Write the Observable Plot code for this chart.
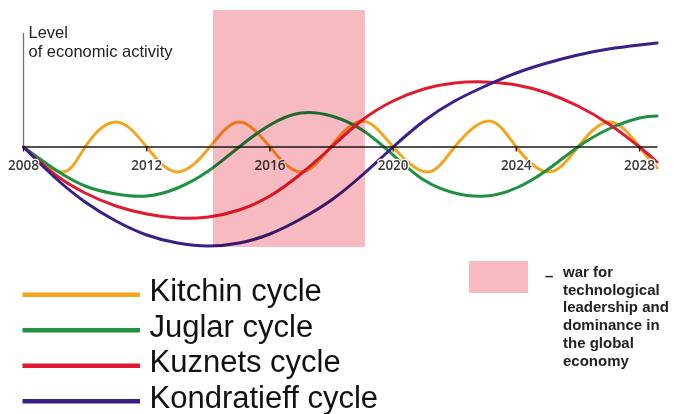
<!DOCTYPE html>
<html>
<head>
<meta charset="utf-8">
<script src="https://cdn.jsdelivr.net/npm/d3@7"></script>
<script src="https://cdn.jsdelivr.net/npm/@observablehq/plot@0.6"></script>
<style>
  html, body { margin: 0; padding: 0; background: #fff; }
  #wrap { width: 674px; height: 414px; overflow: hidden; background: #fff; }
  #wrap svg { display: block; }
</style>
</head>
<body>
<div id="wrap"></div>
<script>
// ---- data ----
const seriesNames = ["Kitchin cycle", "Juglar cycle", "Kuznets cycle", "Kondratieff cycle"];
const seriesColors = ["#f2a51f", "#1f9140", "#e01b2f", "#3b1f89"];

const kitchinYears  = [2008, 2009.25, 2010, 2011, 2012, 2013, 2014.05, 2015, 2016, 2017, 2017.97, 2019, 2020, 2021.1, 2022, 2023.1, 2024, 2025.05, 2026, 2027.05, 2028, 2028.57];
const kitchinLevels = [0, -25, 0, 25, 0, -25, 0, 25, 0, -25, 0, 26, 0, -25, 0, 26, 0, -25, 0, 25, 0, -21];

const juglarYears  = [2008, 2009, 2010, 2011, 2012, 2013, 2014, 2015, 2016, 2017, 2018, 2019, 2020, 2021, 2022, 2023, 2024, 2025, 2026, 2027, 2028, 2028.57];
const juglarLevels = [0, -22, -39, -47, -49, -41, -24, 0, 22, 34, 31, 17, -8, -33, -46, -49, -41, -23, 0, 18, 29, 31];

const kuznetsYears  = [2008, 2009, 2010, 2011, 2012, 2013, 2014, 2015, 2016, 2017, 2018, 2019, 2020, 2021, 2022, 2023, 2024, 2025, 2026, 2027, 2028, 2028.57];
const kuznetsLevels = [0, -27, -46, -59, -67, -71, -70, -63, -49, -27, 0, 27, 46, 58, 64, 65, 62, 54, 41, 23, 0, -15];

const kondratieffYears  = [2008, 2009, 2010, 2011, 2012, 2013, 2014, 2015, 2016, 2017, 2018, 2019, 2020, 2021, 2022, 2023, 2024, 2025, 2026, 2027, 2028, 2028.57];
const kondratieffLevels = [0, -30, -55, -74, -88, -96, -99, -96, -87, -72, -53, -28, 0, 26, 46, 61, 74, 84, 92, 98, 102, 104];

const tickYears = [2008, 2012, 2016, 2020, 2024, 2028];
const axisEndYear = 2028.6;
const yAxisTop = 113.5;

const warStart = 2014.17, warEnd = 2019.1, warTop = 136.5, warBottom = -100.5;

const yLabelLines = ["Level", "of economic activity"];
const warLegendLines = ["war for", "technological", "leadership and", "dominance in", "the global", "economy"];

// ---- build table ----
const seriesYears = [kitchinYears, juglarYears, kuznetsYears, kondratieffYears];
const seriesLevels = [kitchinLevels, juglarLevels, kuznetsLevels, kondratieffLevels];
const rows = seriesNames.map((name, i) => seriesYears[i].map((yr, j) => ({series: name, year: yr, level: seriesLevels[i][j]})));

const pink = "#f7bac0";
const labelFont = "'Liberation Sans', Arial, sans-serif";

const lineMarks = rows.map((data, i) =>
  Plot.line(data, {x: "year", y: "level", stroke: seriesColors[i], strokeWidth: 3, curve: "natural"})
);

const chart = Plot.plot({
  width: 674,
  height: 260,
  marginTop: 0, marginRight: 0, marginBottom: 0, marginLeft: 0,
  style: {background: "white", fontFamily: "'Open Sans', sans-serif", overflow: "visible"},
  x: {domain: [2008, axisEndYear], range: [23, 657.5], axis: null},
  y: {domain: [-113.5, 146.5], range: [260, 0], axis: null},
  marks: [
    Plot.ruleX([2008], {y1: 0, y2: yAxisTop, stroke: "#707070", strokeWidth: 1.3}),
    ...lineMarks,
    Plot.ruleY([0], {x1: 2008, x2: axisEndYear, stroke: "#1a1a1a", strokeWidth: 1.5}),
    Plot.ruleX(tickYears, {y1: 0, y2: -5, stroke: "#1a1a1a", strokeWidth: 1.3}),
    Plot.text(tickYears, {x: d => d, y: 0, text: d => String(d), dy: 19, fontSize: 13.5, fontWeight: 600, fill: "#3a3a3a", stroke: "white", strokeWidth: 2.5, fontFamily: "'Open Sans', sans-serif"}),
    Plot.rect([{x1: warStart, x2: warEnd, y1: warBottom, y2: warTop}], {x1: "x1", x2: "x2", y1: "y1", y2: "y2", fill: pink, mixBlendMode: "multiply"}),
    Plot.text([yLabelLines[0]], {frameAnchor: "top-left", dx: 28, dy: 26.2, lineAnchor: "top", textAnchor: "start", fontSize: 16.5, fill: "#222", fontFamily: labelFont}),
    Plot.text([yLabelLines[1]], {frameAnchor: "top-left", dx: 28, dy: 44.7, lineAnchor: "top", textAnchor: "start", fontSize: 16.5, fill: "#222", fontFamily: labelFont})
  ]
});
d3.select(chart).selectAll('g[aria-label="rect"]').style("mix-blend-mode", "multiply");
document.getElementById("wrap").appendChild(chart);

// ---- legend below the chart ----
const leg = d3.create("svg").attr("width", 674).attr("height", 154).style("overflow", "visible");
seriesNames.forEach((name, i) => {
  const cy = 34.7 + i * 35.5;
  leg.append("line").attr("x1", 22.5).attr("x2", 140).attr("y1", cy).attr("y2", cy)
    .attr("stroke", seriesColors[i]).attr("stroke-width", 4.5);
  leg.append("text").attr("x", 149.5).attr("y", 41.3 + i * 35.5)
    .attr("font-family", labelFont).attr("font-size", 31)
    .attr("fill", "#111").text(name);
});
leg.append("rect").attr("x", 469).attr("y", 1).attr("width", 59).attr("height", 32).attr("fill", pink);
leg.append("text").attr("x", 545).attr("y", 21)
  .attr("font-family", labelFont).attr("font-size", 15).attr("font-weight", "bold")
  .attr("fill", "#222").text("–");
warLegendLines.forEach((t, i) => {
  leg.append("text").attr("x", 563).attr("y", 16.7 + i * 17.8)
    .attr("font-family", labelFont).attr("font-size", 15).attr("font-weight", "bold")
    .attr("fill", "#222").text(t);
});
document.getElementById("wrap").appendChild(leg.node());
</script>
</body>
</html>
